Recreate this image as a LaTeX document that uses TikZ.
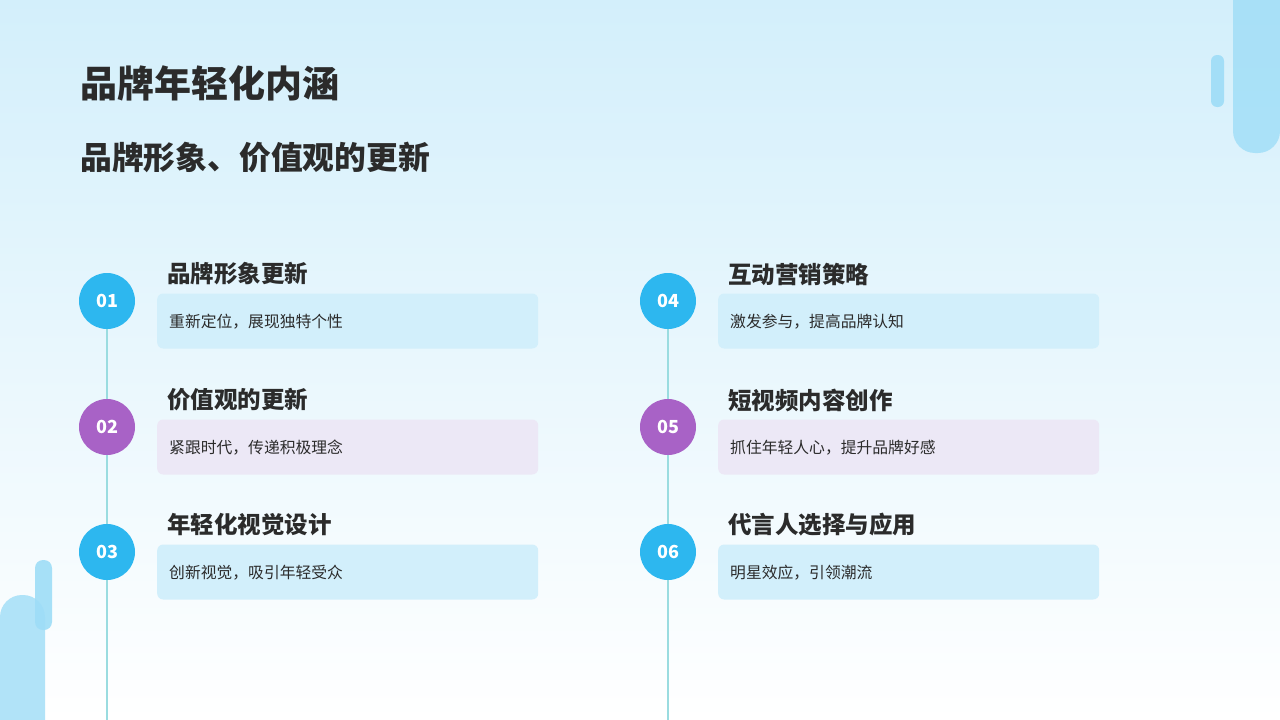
\documentclass[tikz,border=0pt]{standalone}
\usepackage{fontspec}
\setmainfont{Noto Sans CJK SC}
\definecolor{txt}{HTML}{2B2B2B}
\definecolor{cblue}{HTML}{2DB7EF}
\definecolor{cpurp}{HTML}{A862C6}
\definecolor{bblue}{HTML}{D2EFFB}
\definecolor{bpurp}{HTML}{ECE8F6}
\definecolor{bgtop}{HTML}{D3EFFB}
\definecolor{deco}{HTML}{9EDDF7}
\definecolor{vline}{HTML}{9ADCE0}
\begin{document}
\begin{tikzpicture}[x=1pt,y=-1pt,
  num/.style={circle,minimum size=56pt,inner sep=0pt,text=white,font=\fontsize{18}{18}\selectfont\bfseries},
  card/.style={rounded corners=6pt,minimum width=381pt,minimum height=55pt,anchor=west},
  head/.style={anchor=west,text=txt,font=\fontsize{23.5}{24}\selectfont\bfseries,inner sep=0pt},
  body/.style={anchor=west,text=txt,font=\fontsize{15.8}{16}\selectfont,inner sep=0pt}]
\useasboundingbox (0,0) rectangle (1280,720);
\shade[top color=bgtop,bottom color=white] (0,0) rectangle (1280,720);
% decorations
\fill[deco,opacity=0.8,rounded corners=22pt] (1233,-40) rectangle (1280,153);
\fill[deco,opacity=0.9,rounded corners=6pt] (1211,55) rectangle (1224,107);
\fill[deco,opacity=0.8,rounded corners=22pt] (0,595) rectangle (45,760);
\fill[deco,opacity=0.9,rounded corners=8pt] (35,560) rectangle (52,630);
% titles
\node[anchor=west,text=txt,inner sep=0pt,font=\fontsize{37}{37}\selectfont\bfseries] (t1) at (80,83) {品牌年轻化内涵};
\node[anchor=west,text=txt,inner sep=0pt,font=\fontsize{31.8}{32}\selectfont\bfseries] (t2) at (80,157) {品牌形象、价值观的更新};
% lines
\coordinate (l1) at (107,720);
\coordinate (l2) at (668,720);
\draw[vline,line width=1.3pt] (107,301) -- (l1);
\draw[vline,line width=1.3pt] (668,301) -- (l2);
\foreach \x/\n/\c/\b/\y/\h/\t [count=\i] in {
 107/01/cblue/bblue/301/品牌形象更新/重新定位，展现独特个性,
 107/02/cpurp/bpurp/427/价值观的更新/紧跟时代，传递积极理念,
 107/03/cblue/bblue/552/年轻化视觉设计/创新视觉，吸引年轻受众,
 668/04/cblue/bblue/301/互动营销策略/激发参与，提高品牌认知,
 668/05/cpurp/bpurp/427/短视频内容创作/抓住年轻人心，提升品牌好感,
 668/06/cblue/bblue/552/代言人选择与应用/明星效应，引领潮流}{
 \node[num,fill=\c] (n\i) at (\x,\y) {\n};
 \node[card,fill=\b] (c\i) at (\x+50,\y+20) {};
 \node[head] (h\i) at (\x+60,\y-27) {\h};
 \node[body] (b\i) at (\x+62,\y+21) {\t};
}
\end{tikzpicture}
\end{document}
